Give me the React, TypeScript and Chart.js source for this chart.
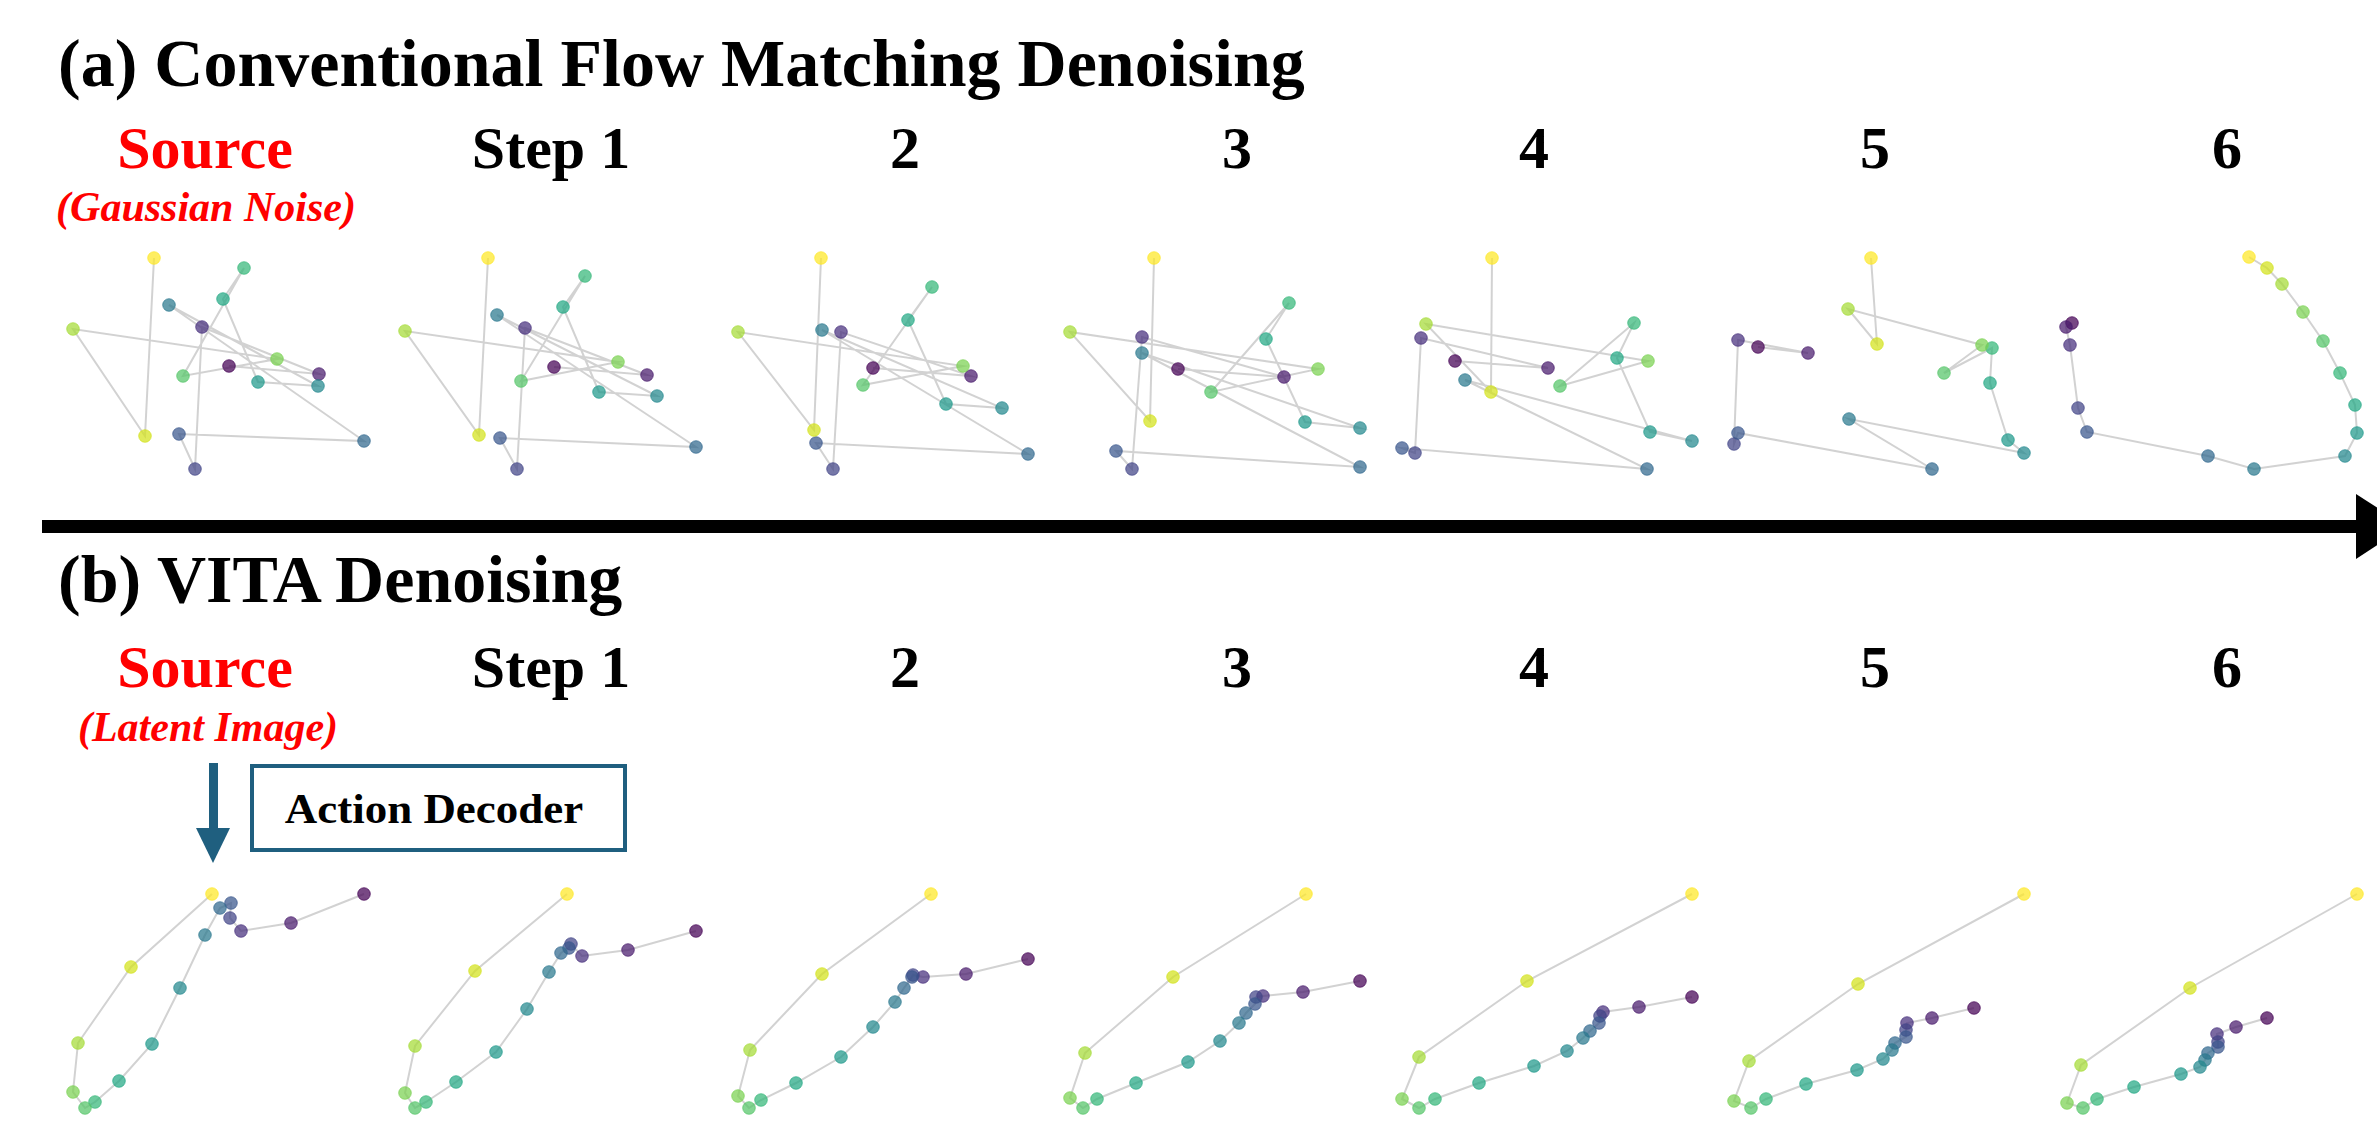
import React, { useEffect, useRef } from "react";
import { Chart, registerables } from "chart.js";

Chart.register(...registerables);

// ---------- data (panel-local units, x: 0..33, y: 0..25) ----------
type P = [number, number];

const stepLabels = ["Source", "Step 1", "2", "3", "4", "5", "6"];

// (a) Conventional flow matching: 16 waypoints per step, ordered 0 (start) .. 15 (end)
const fmSource: P[] = [[17.9,11.9],[26.9,11.1],[15.2,15.8],[14.5,1.6],[12.9,5.1],[31.4,4.4],[11.9,18.0],[26.8,9.9],[20.8,10.3],[17.3,18.6],[19.4,21.7],[13.3,10.9],[22.7,12.6],[2.3,15.6],[9.5,4.9],[10.4,22.7]];
const fmStep1: P[] = [[17.2,11.8],[26.5,11.0],[14.3,15.7],[13.5,1.6],[11.8,4.7],[31.4,3.8],[11.5,17.0],[27.5,8.9],[21.7,9.3],[18.1,17.8],[20.3,20.9],[13.9,10.4],[23.6,12.3],[2.3,15.4],[9.7,5.0],[10.6,22.7]];
const fmStep2: P[] = [[15.9,11.7],[25.7,10.9],[12.7,15.3],[11.9,1.6],[10.2,4.2],[31.4,3.1],[10.8,15.5],[28.8,7.7],[23.2,8.1],[19.4,16.5],[21.8,19.8],[14.9,10.0],[24.9,11.9],[2.4,15.3],[10.0,5.5],[10.7,22.7]];
const fmStep3: P[] = [[13.2,11.6],[23.8,10.8],[9.6,14.8],[8.6,1.6],[7.0,3.4],[31.4,1.8],[9.6,13.2],[31.4,5.7],[25.9,6.3],[22.0,14.6],[24.3,18.2],[16.5,9.3],[27.2,11.6],[2.4,15.3],[10.4,6.4],[10.8,22.7]];
const fmStep4: P[] = [[7.7,12.4],[17.0,11.7],[4.3,14.7],[3.7,3.2],[2.4,3.7],[26.9,1.6],[8.7,10.5],[31.4,4.4],[27.2,5.3],[23.9,12.7],[25.6,16.2],[18.2,9.9],[27.0,12.4],[4.8,16.1],[11.3,9.3],[11.4,22.7]];
const fmStep5: P[] = [[4.8,13.8],[9.8,13.2],[2.8,14.5],[2.4,4.1],[2.8,5.2],[22.2,1.6],[13.9,6.6],[31.4,3.2],[29.8,4.5],[28.0,10.2],[28.2,13.7],[23.4,11.2],[27.2,14.0],[13.8,17.6],[16.7,14.1],[16.1,22.7]];
const fmStep6: P[] = [[3.0,16.2],[2.4,15.8],[2.8,14.0],[3.6,7.7],[4.5,5.3],[16.6,2.9],[21.2,1.6],[30.3,2.9],[31.5,5.2],[31.3,8.0],[29.8,11.2],[28.1,14.4],[26.1,17.3],[24.0,20.1],[22.5,21.7],[20.7,22.8]];

// (b) VITA denoising
const vitaSource: P[] = [[31.4,23.1],[24.1,20.2],[19.1,19.4],[18.0,20.7],[18.1,22.2],[17.0,21.7],[15.5,19.0],[13.0,13.7],[10.2,8.1],[6.9,4.4],[4.5,2.3],[3.5,1.7],[2.3,3.3],[2.8,8.2],[8.1,15.8],[16.2,23.1]];
const vitaStep1: P[] = [[31.4,19.4],[24.6,17.5],[20.0,16.9],[18.9,18.1],[18.7,17.7],[17.9,17.2],[16.7,15.3],[14.5,11.6],[11.4,7.3],[7.4,4.3],[4.4,2.3],[3.3,1.7],[2.3,3.2],[3.3,7.9],[9.3,15.4],[18.5,23.1]];
const vitaStep2: P[] = [[31.4,16.6],[25.2,15.1],[20.9,14.8],[19.9,15.0],[19.8,14.8],[19.0,13.7],[18.1,12.3],[15.9,9.8],[12.7,6.8],[8.2,4.2],[4.7,2.5],[3.5,1.7],[2.4,2.9],[3.6,7.5],[10.8,15.1],[21.7,23.1]];
const vitaStep3: P[] = [[31.4,14.4],[25.7,13.3],[21.7,12.9],[21.0,12.8],[20.9,12.1],[20.0,11.2],[19.3,10.2],[17.4,8.4],[14.2,6.3],[9.0,4.2],[5.1,2.6],[3.7,1.7],[2.4,2.7],[3.9,7.2],[12.7,14.8],[26.0,23.1]];
const vitaStep4: P[] = [[31.4,12.8],[26.1,11.8],[22.5,11.3],[22.2,10.9],[22.1,10.2],[21.2,9.4],[20.5,8.7],[18.9,7.4],[15.6,5.9],[10.1,4.2],[5.7,2.6],[4.1,1.7],[2.4,2.6],[4.1,6.8],[14.9,14.4],[31.4,23.1]];
const vitaStep5: P[] = [[26.4,11.7],[22.2,10.7],[19.7,10.2],[19.6,9.5],[19.6,8.8],[18.5,8.2],[18.2,7.5],[17.3,6.6],[14.7,5.5],[9.6,4.1],[5.6,2.6],[4.1,1.7],[2.4,2.4],[3.9,6.4],[14.8,14.1],[31.4,23.1]];
const vitaStep6: P[] = [[22.5,10.7],[19.4,9.8],[17.5,9.1],[17.6,8.3],[17.6,7.8],[16.6,7.2],[16.3,6.5],[15.8,5.8],[13.9,5.1],[9.2,3.8],[5.5,2.6],[4.1,1.7],[2.5,2.2],[3.9,6.0],[14.8,13.7],[31.5,23.1]];

const flowRows: P[][] = [fmSource, fmStep1, fmStep2, fmStep3, fmStep4, fmStep5, fmStep6];
const vitaRows: P[][] = [vitaSource, vitaStep1, vitaStep2, vitaStep3, vitaStep4, vitaStep5, vitaStep6];

// ---------- styles ----------
const viridis16 = [
  "68,1,84", "72,26,108", "71,47,125", "65,68,135", "57,86,140", "49,104,142",
  "42,120,142", "35,136,142", "31,152,139", "34,168,132", "53,183,121", "84,197,104",
  "122,209,81", "165,219,54", "210,226,27", "253,231,37",
];

const W = 2377;
const H = 1130;
const PANEL_W = 330;
const PANEL_H = 250;
const panelLeft = (i: number) => 50 + 332 * i;
const labelCenters = [205, 551, 905, 1237, 1534, 1875, 2227];
const TEAL = "#1f5f7f";
const SERIF = "'Liberation Serif', 'Times New Roman', serif";

function Panel({ pts, left, top }: { pts: P[]; left: number; top: number }) {
  const ref = useRef<HTMLCanvasElement | null>(null);
  useEffect(() => {
    if (!ref.current) return;
    const n = pts.length;
    const fill = pts.map((_, i) => `rgba(${viridis16[Math.round((i * 15) / (n - 1))]},0.72)`);
    const edge = pts.map((_, i) => `rgba(${viridis16[Math.round((i * 15) / (n - 1))]},0.85)`);
    const chart = new Chart(ref.current, {
      type: "scatter",
      data: {
        datasets: [
          {
            data: pts.map(([x, y]) => ({ x, y })),
            showLine: true,
            borderColor: "rgba(205,205,205,0.9)",
            borderWidth: 2,
            pointRadius: 6.3,
            pointHoverRadius: 6.3,
            pointBackgroundColor: fill,
            pointBorderColor: edge,
            pointBorderWidth: 0.8,
            clip: false as any,
          },
        ],
      },
      options: {
        responsive: false,
        animation: false,
        maintainAspectRatio: false,
        layout: { padding: 0, autoPadding: false } as any,
        plugins: { legend: { display: false }, tooltip: { enabled: false } },
        scales: {
          x: { type: "linear", min: 0, max: 33, display: false },
          y: { type: "linear", min: 0, max: 25, display: false },
        },
      },
    });
    return () => chart.destroy();
  }, [pts]);
  return (
    <canvas
      ref={ref}
      width={PANEL_W}
      height={PANEL_H}
      style={{ position: "absolute", left, top, width: PANEL_W, height: PANEL_H }}
    />
  );
}

function Text({
  children, cx, left, baseline, size, color = "#000", italic = false, scaleX = 1,
}: {
  children: React.ReactNode; cx?: number; left?: number; baseline: number; size: number;
  color?: string; italic?: boolean; scaleX?: number;
}) {
  const top = baseline - 0.8375 * size;
  const common: React.CSSProperties = {
    position: "absolute",
    top,
    fontFamily: SERIF,
    fontWeight: "bold",
    fontStyle: italic ? "italic" : "normal",
    fontSize: size,
    lineHeight: `${size}px`,
    color,
    whiteSpace: "nowrap",
  };
  if (cx !== undefined) {
    return (
      <div style={{ ...common, left: cx - 300, width: 600, textAlign: "center", transform: `scaleX(${scaleX})` }}>
        {children}
      </div>
    );
  }
  return <div style={{ ...common, left }}>{children}</div>;
}

export default function App() {
  return (
    <div
      style={{
        position: "absolute", left: 0, top: 0, width: W, height: H,
        background: "#fff", overflow: "hidden",
      }}
    >
      <Text left={58} baseline={86} size={68}>(a) Conventional Flow Matching Denoising</Text>
      {stepLabels.map((s, i) => (
        <Text key={"la" + i} cx={labelCenters[i]} baseline={168} size={60} color={i === 0 ? "#ff0000" : "#000"}>
          {s}
        </Text>
      ))}
      <Text cx={206} baseline={221} size={42} italic color="#ff0000">(Gaussian Noise)</Text>
      {flowRows.map((pts, i) => (
        <Panel key={"pa" + i} pts={pts} left={panelLeft(i)} top={235} />
      ))}

      {/* timeline arrow */}
      <div style={{ position: "absolute", left: 42, top: 520, width: 2318, height: 13, background: "#000" }} />
      <div
        style={{
          position: "absolute", left: 2356, top: 494, width: 0, height: 0,
          borderTop: "32px solid transparent", borderBottom: "33px solid transparent", borderLeft: "50px solid #000",
        }}
      />

      <Text left={58} baseline={602} size={68}>(b) VITA Denoising</Text>
      {stepLabels.map((s, i) => (
        <Text key={"lb" + i} cx={labelCenters[i]} baseline={687} size={60} color={i === 0 ? "#ff0000" : "#000"}>
          {s}
        </Text>
      ))}
      <Text cx={208} baseline={741} size={42} italic color="#ff0000">(Latent Image)</Text>

      {/* decoder arrow and box */}
      <div style={{ position: "absolute", left: 209, top: 763, width: 9, height: 67, background: TEAL }} />
      <div
        style={{
          position: "absolute", left: 196, top: 828, width: 0, height: 0,
          borderLeft: "17px solid transparent", borderRight: "17px solid transparent", borderTop: `35px solid ${TEAL}`,
        }}
      />
      <div
        style={{
          position: "absolute", left: 250, top: 764, width: 377, height: 88,
          border: `4px solid ${TEAL}`, boxSizing: "border-box", background: "#fff",
        }}
      />
      <Text cx={434} baseline={823} size={42} scaleX={1.07}>Action Decoder</Text>

      {vitaRows.map((pts, i) => (
        <Panel key={"pb" + i} pts={pts} left={panelLeft(i)} top={875} />
      ))}
    </div>
  );
}
